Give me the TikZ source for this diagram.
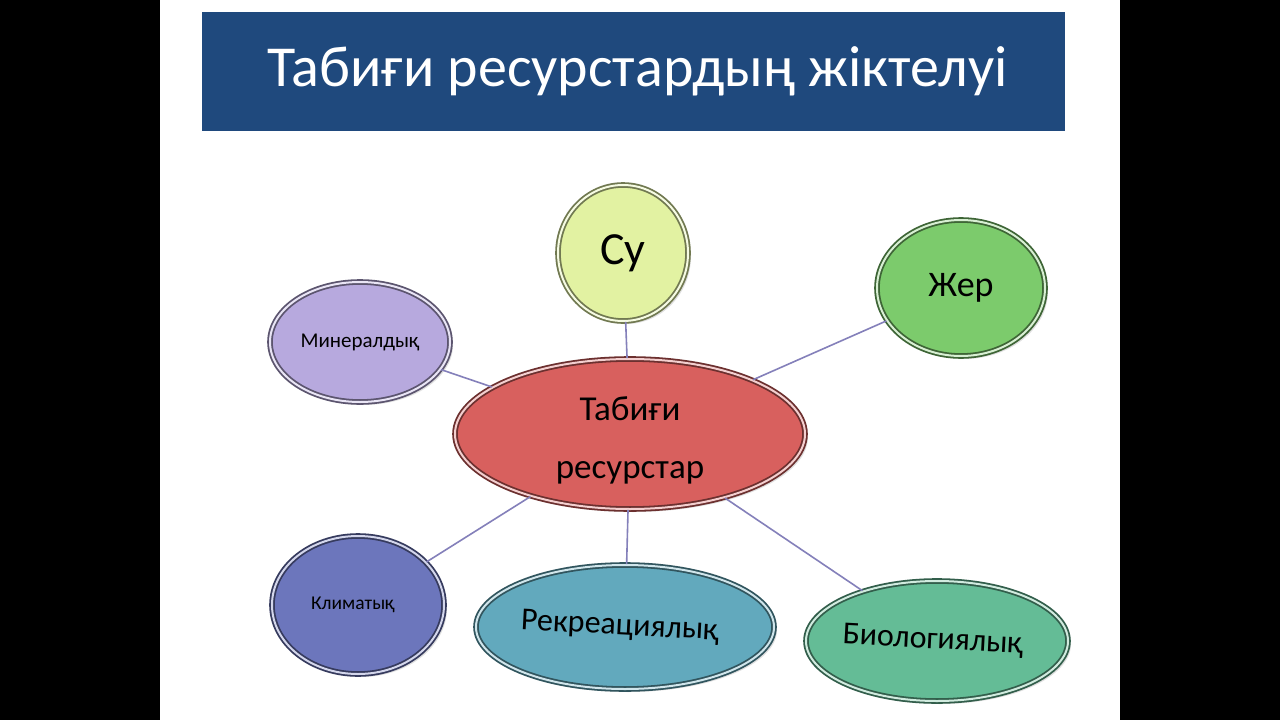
\documentclass[tikz,border=0pt]{standalone}
\usepackage{fontspec}
\setmainfont{Carlito}
\usepackage{tikz}
\usetikzlibrary{shapes.geometric, shadows}
\definecolor{titleblue}{HTML}{1F497D}
\definecolor{linkcol}{HTML}{8480BA}
\definecolor{suc}{HTML}{E2F2A2}
\definecolor{redc}{HTML}{D8605E}
\definecolor{minc}{HTML}{B7A9DE}
\definecolor{zherc}{HTML}{7CCB6C}
\definecolor{klimc}{HTML}{6C76BC}
\definecolor{rekc}{HTML}{62A9BD}
\definecolor{bioc}{HTML}{64BC96}
\newcommand{\fs}[2]{\fontsize{#1}{#2}\selectfont}

\begin{document}
\begin{tikzpicture}[x=1pt, y=-1pt,
  bubble/.style={ellipse, inner sep=0pt, fill=#1, draw=#1!50!black, line width=1.8pt,
    double=#1!30!white, double distance=2pt,
    drop shadow={opacity=0.25, shadow xshift=3pt, shadow yshift=-3pt}},
  link/.style={draw=linkcol, line width=1.6pt}]
  \useasboundingbox (0,0) rectangle (1280,720);
  \fill[black] (0,0) rectangle (1280,720);
  \fill[white] (160,0) rectangle (1120,720);

  % title bar
  \node[fill=titleblue, minimum width=863pt, minimum height=119pt, inner sep=0pt,
    text=white, font=\fs{58}{60}] (title) at (633.5,71.5) {\hspace*{8pt}Табиғи ресурстардың жіктелуі};

  % bubbles
  \node[bubble=redc, minimum width=350pt, minimum height=150pt, align=center,
    font=\fs{35}{58}] (res) at (630,434) {\rule{0pt}{36pt}Табиғи\\ресурстар};
  \node[bubble=suc, minimum width=130pt, minimum height=136pt, font=\fs{46}{48}] (su) at (623,253) {Су};
  \node[bubble=zherc, minimum width=168pt, minimum height=136pt, font=\fs{36}{40}] (zher) at (961,288) {Жер};
  \node[bubble=minc, minimum width=180pt, minimum height=120pt, font=\fs{21}{24}] (min) at (360,342) {Минералдық};
  \node[bubble=klimc, minimum width=172pt, minimum height=138pt, font=\fs{19.5}{22}] (klim) at (358,605) {\hspace*{-10pt}Климатық};
  \node[bubble=rekc, minimum width=298pt, minimum height=124pt, font=\fs{32}{34}] (rek) at (625,627) {\hspace*{-10pt}\rotatebox{-3}{Рекреациялық}};
  \node[bubble=bioc, minimum width=262pt, minimum height=120pt, font=\fs{32}{34}] (bio) at (937,641) {\hspace*{-8pt}\rotatebox{-3}{Биологиялық}};

  % links
  \draw[link] (res) -- (su);
  \draw[link] (res) -- (zher);
  \draw[link] (res) -- (min);
  \draw[link] (res) -- (klim);
  \draw[link] (res) -- (rek);
  \draw[link] (res) -- (bio);
\end{tikzpicture}
\end{document}
